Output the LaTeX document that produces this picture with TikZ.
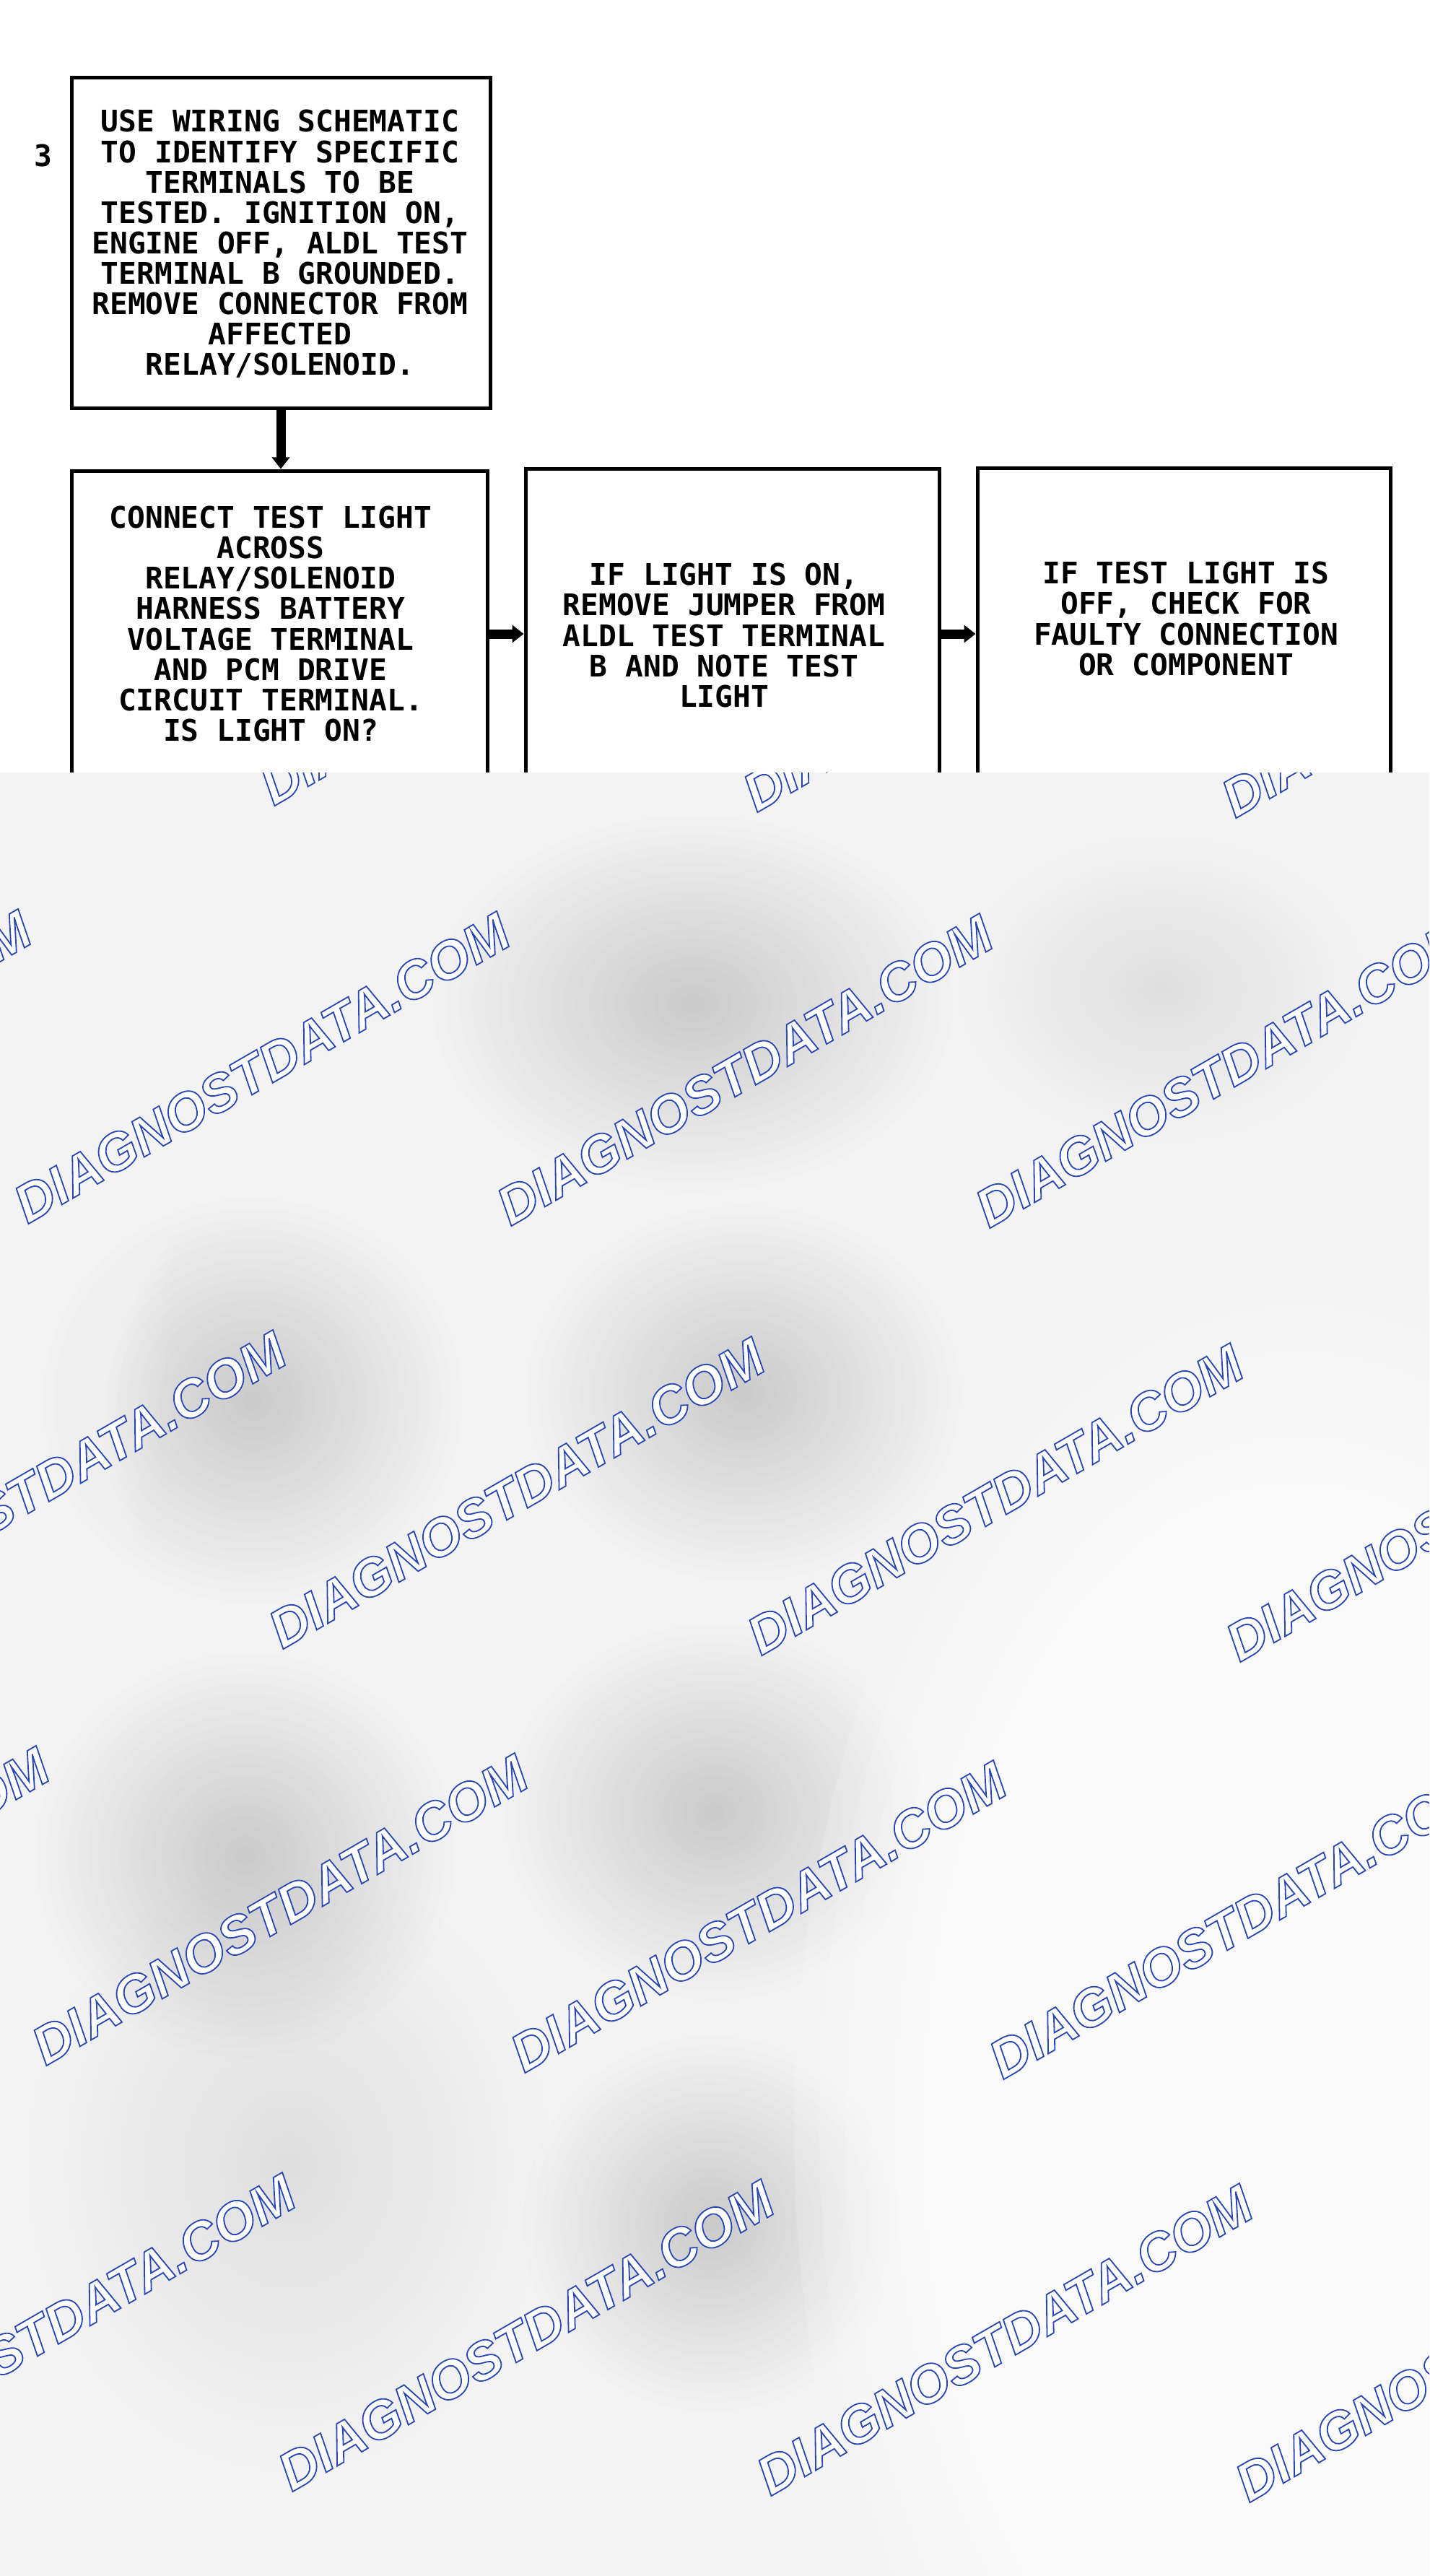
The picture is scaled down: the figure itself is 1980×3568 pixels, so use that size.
\documentclass[tikz,border=0pt]{standalone}
\usepackage{fontspec}
\newfontfamily\diagfont{DejaVu Sans Mono}
\newfontfamily\wmfont{Liberation Sans}
\usetikzlibrary{arrows.meta}
\definecolor{wmblue}{HTML}{2846B4}
\definecolor{lowbase}{HTML}{F3F3F3}
\tikzset{
  box/.style={draw=black, line width=2.5pt, rectangle, inner sep=0pt},
  txt/.style={font=\diagfont\bfseries\fontsize{20.6pt}{21.05pt}\selectfont, align=center, inner sep=0pt},
  flow/.style={line width=6.5pt, -{Triangle[length=8pt,width=12pt]}},
  wm/.style={font=\wmfont\bfseries\itshape\fontsize{37pt}{37pt}\selectfont, rotate=30, anchor=base west, inner sep=0pt, text=white},
}
\newcommand\grayblob[6]{% x y rx ry color opacity
  \foreach \k in {0,...,19}{%
    \pgfmathsetmacro\rxx{#3*(1-\k/20)/2}%
    \pgfmathsetmacro\ryy{#4*(1-\k/20)/2}%
    \fill[#5, opacity=#6] (#1,#2) ellipse [x radius=\rxx pt, y radius=\ryy pt];
  }}
\newcommand\wmark[3]{% name x y
  \node[wm] (#1) at (#2,#3) {\special{pdf:code 2 Tr 0.9 w 0.157 0.275 0.706 RG}DIAGNOSTDATA.COM\special{pdf:code 0 Tr}};}
\begin{document}
\begin{tikzpicture}[x=0.5pt,y=-0.5pt]
\useasboundingbox (0,0) rectangle (1980,3568);
\fill[white] (0,0) rectangle (1980,3568);

% boxes
\node[box, minimum width=290pt, minimum height=229pt] (b1) at (389,337) {};
\node[box, minimum width=288pt, minimum height=226pt] (b2) at (387,878) {};
\node[box, minimum width=286.5pt, minimum height=229pt] (b3) at (1014.5,878) {};
\node[box, minimum width=286pt, minimum height=230pt] (b4) at (1640,878) {};

\node[txt] (num) at (60,216) {3};
\node[txt] (t1) at (388,338) {USE WIRING SCHEMATIC\\TO IDENTIFY SPECIFIC\\TERMINALS TO BE\\TESTED. IGNITION ON,\\ENGINE OFF, ALDL TEST\\TERMINAL B GROUNDED.\\REMOVE CONNECTOR FROM\\AFFECTED\\RELAY/SOLENOID.};
\node[txt] (t2) at (375,864) {CONNECT TEST LIGHT\\ACROSS\\RELAY/SOLENOID\\HARNESS BATTERY\\VOLTAGE TERMINAL\\AND PCM DRIVE\\CIRCUIT TERMINAL.\\IS LIGHT ON?};
\node[txt] (t3) at (1003,880) {IF LIGHT IS ON,\\REMOVE JUMPER FROM\\ALDL TEST TERMINAL\\B AND NOTE TEST\\LIGHT};
\node[txt] (t4) at (1643,857) {IF TEST LIGHT IS\\OFF, CHECK FOR\\FAULTY CONNECTION\\OR COMPONENT};

\draw[flow] (b1.south) -- (b2.north -| b1.south);
\draw[flow] (b2.east) -- (b3.west);
\draw[flow] (b3.east) -- (b4.west);

% lower overlay
\begin{scope}
\clip (0,1070) rectangle (1980,3568);
\fill[lowbase] (0,1070) rectangle (1980,3568);
\grayblob{960}{1390}{360}{260}{black}{0.0095}
\grayblob{1610}{1370}{280}{210}{black}{0.005}
\grayblob{350}{1940}{290}{280}{black}{0.008}
\grayblob{1030}{1930}{300}{260}{black}{0.009}
\grayblob{340}{2570}{290}{280}{black}{0.009}
\grayblob{990}{2510}{290}{260}{black}{0.008}
\grayblob{985}{3080}{260}{260}{black}{0.009}
\grayblob{400}{3000}{360}{420}{black}{0.004}
\grayblob{1800}{2950}{700}{1200}{white}{0.15}
\grayblob{60}{1650}{180}{700}{white}{0.06}
% watermarks
\wmark{w01}{-284}{1112} \wmark{w02}{379}{1117} \wmark{w03}{1048}{1126} \wmark{w04}{1711}{1134}
\wmark{w11}{-625}{1693} \wmark{w12}{38}{1696} \wmark{w13}{707}{1699} \wmark{w14}{1370}{1702}
\wmark{w21}{-272}{2276} \wmark{w22}{391}{2285} \wmark{w23}{1054}{2294} \wmark{w24}{1717}{2303}
\wmark{w31}{-600}{2852} \wmark{w32}{63}{2862} \wmark{w33}{726}{2872} \wmark{w34}{1389}{2881}
\wmark{w41}{-259}{3443} \wmark{w42}{404}{3452} \wmark{w43}{1067}{3458} \wmark{w44}{1730}{3467}
\end{scope}
\end{tikzpicture}
\end{document}
